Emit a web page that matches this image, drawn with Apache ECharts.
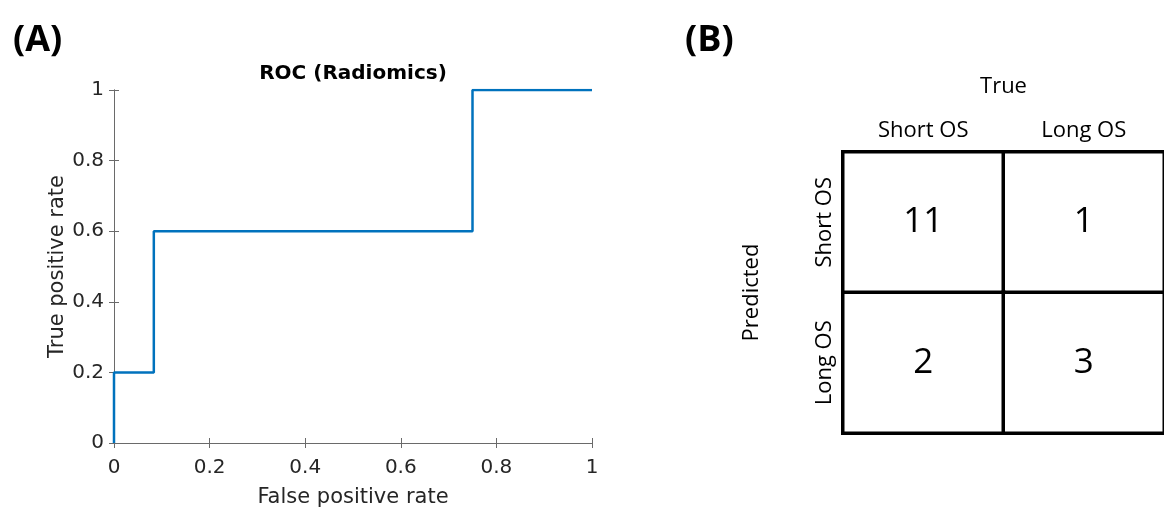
<!DOCTYPE html>
<html><head><meta charset="utf-8">
<script src="https://cdn.jsdelivr.net/npm/echarts@6/dist/echarts.min.js"></script>
<style>html,body{margin:0;padding:0;background:#fff}#c{width:1164px;height:513px}</style>
</head><body><div id="c"></div>
<script>
// ROC curve (Radiomics)
const fpr = [0, 0, 0.0833, 0.0833, 0.75, 0.75, 1];
const tpr = [0, 0.2, 0.2, 0.6, 0.6, 1, 1];
const rocTicks = [0, 0.2, 0.4, 0.6, 0.8, 1];
// Confusion matrix
const trueLabels = ['Short OS', 'Long OS'];
const predLabels = ['Short OS', 'Long OS'];
// counts[predIndex][trueIndex]
const counts = [[11, 1], [2, 3]];

const cmData = [];
counts.forEach((row, pi) => row.forEach((v, ti) => cmData.push([ti, pi, v])));

const plotFont = 'DejaVu Sans';
const tickFont = {fontFamily: plotFont, fontSize: 20, color: '#262626'};
const axisLine = {show: true, lineStyle: {color: '#6a6a6a', width: 1}};
const axisTick = {show: true, inside: true, length: 5, lineStyle: {color: '#6a6a6a', width: 1}};
const cmFont = 'Open Sans';

const chart = echarts.init(document.getElementById('c'), null, {renderer: 'canvas'});
chart.setOption({
  backgroundColor: '#fff',
  animation: false,
  title: [
    {text: '(A)', left: 8, top: 18, textStyle: {fontFamily: cmFont, fontWeight: 'bold', fontSize: 36, color: '#000'}},
    {text: '(B)', left: 680, top: 18, textStyle: {fontFamily: cmFont, fontWeight: 'bold', fontSize: 36, color: '#000'}},
    {text: 'ROC (Radiomics)', left: 348, top: 59, textAlign: 'center', textStyle: {fontFamily: plotFont, fontWeight: 'bold', fontSize: 20, color: '#000'}}
  ],
  grid: [
    {left: 114, top: 90, width: 478, height: 360},
    {left: 843, top: 152, width: 330, height: 281}
  ],
  xAxis: [
    {type: 'value', gridIndex: 0, min: 0, max: 1, interval: 0.2, position: 'bottom',
     name: 'False positive rate', nameLocation: 'middle', nameGap: 44,
     nameTextStyle: {fontFamily: plotFont, fontSize: 21, color: '#262626'},
     axisLine: axisLine, axisTick: axisTick, splitLine: {show: false},
     axisLabel: Object.assign({margin: 15, formatter: v => rocTicks.includes(+v.toFixed(1)) ? String(+v.toFixed(1)) : ''}, tickFont)},
    {type: 'value', gridIndex: 0, min: 0, max: 1, interval: 0.2, position: 'top',
     axisLine: axisLine, axisTick: axisTick, splitLine: {show: false}, axisLabel: {show: false}},
    {type: 'category', gridIndex: 1, data: trueLabels, position: 'top',
     name: 'True', nameLocation: 'middle', nameGap: 54,
     nameTextStyle: {fontFamily: cmFont, fontSize: 22, color: '#000'},
     axisLine: {show: false}, axisTick: {show: false}, splitLine: {show: false},
     axisLabel: {margin: 10, fontFamily: cmFont, fontSize: 22, color: '#000'}}
  ],
  yAxis: [
    {type: 'value', gridIndex: 0, min: 0, max: 1, interval: 0.2, position: 'left',
     name: 'True positive rate', nameLocation: 'middle', nameGap: 46, nameRotate: 90,
     nameTextStyle: {fontFamily: plotFont, fontSize: 21, color: '#262626'},
     axisLine: axisLine, axisTick: axisTick, splitLine: {show: false},
     axisLabel: Object.assign({margin: 10, formatter: v => String(+v.toFixed(1))}, tickFont)},
    {type: 'value', gridIndex: 0, min: 0, max: 1, interval: 0.2, position: 'right',
     axisLine: axisLine, axisTick: axisTick, splitLine: {show: false}, axisLabel: {show: false}},
    {type: 'category', gridIndex: 1, data: predLabels, inverse: true,
     name: 'Predicted', nameLocation: 'middle', nameGap: 80, nameRotate: 90,
     nameTextStyle: {fontFamily: cmFont, fontSize: 22, color: '#000'},
     axisLine: {show: false}, axisTick: {show: false}, splitLine: {show: false},
     axisLabel: {rotate: 90, margin: 7, fontFamily: cmFont, fontSize: 22, color: '#000'}}
  ],
  series: [
    {type: 'line', xAxisIndex: 0, yAxisIndex: 0, showSymbol: false, symbol: 'none',
     data: fpr.map((x, i) => [x, tpr[i]]),
     lineStyle: {color: '#0072BD', width: 2.5}, itemStyle: {color: '#0072BD'}},
    {type: 'heatmap', xAxisIndex: 2, yAxisIndex: 2, data: cmData,
     itemStyle: {color: '#fff', borderColor: '#000', borderWidth: 3.5},
     label: {show: true, formatter: p => String(p.value[2]), fontFamily: cmFont, fontSize: 35, color: '#000'},
     emphasis: {disabled: true}}
  ]
});
</script></body></html>
